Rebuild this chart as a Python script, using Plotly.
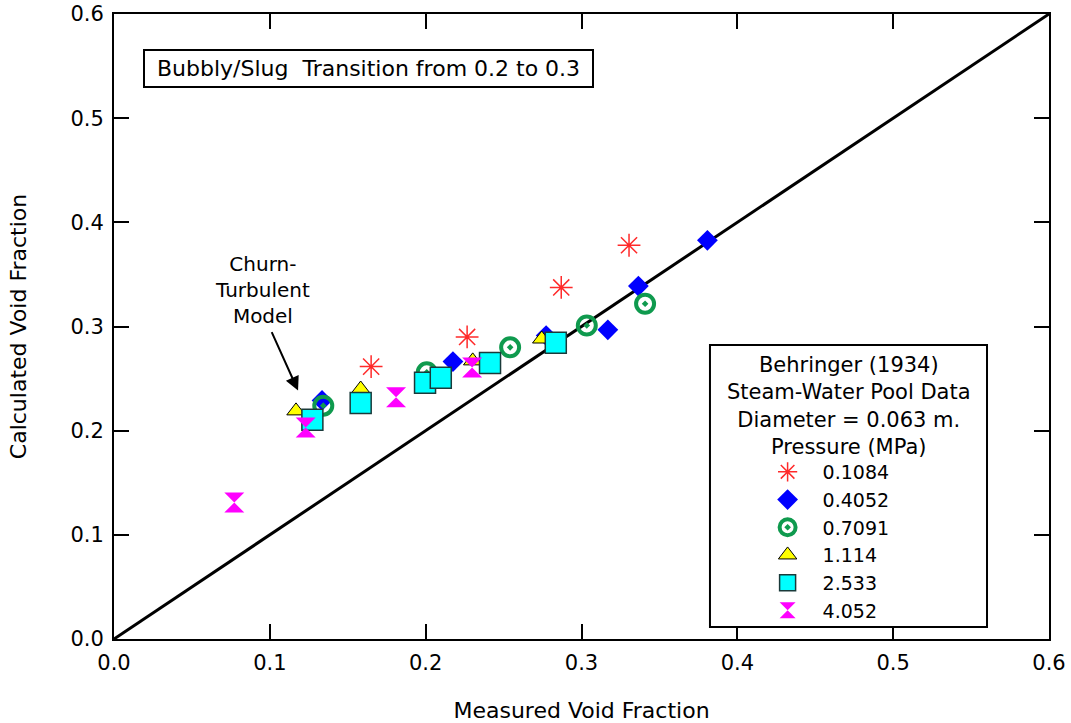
import plotly.graph_objects as go

# ---- data (measured, calculated void fraction) ----
p01084_x = [0.165, 0.2266, 0.287, 0.3305]
p01084_y = [0.2615, 0.290, 0.3375, 0.378]

p04052_x = [0.1335, 0.2175, 0.2773, 0.3169, 0.3365, 0.3808]
p04052_y = [0.229, 0.2663, 0.2913, 0.2968, 0.3388, 0.3827]

p07091_x = [0.1343, 0.2007, 0.2542, 0.3034, 0.3408]
p07091_y = [0.224, 0.256, 0.280, 0.301, 0.3218]

p1114_x = [0.1168, 0.1583, 0.2302, 0.2745]
p1114_y = [0.219, 0.240, 0.267, 0.288]

p2533_x = [0.1273, 0.1583, 0.1996, 0.2097, 0.2413, 0.2835]
p2533_y = [0.2106, 0.2266, 0.2459, 0.2507, 0.265, 0.2843]

p4052_x = [0.0772, 0.123, 0.181, 0.2298]
p4052_y = [0.131, 0.203, 0.232, 0.2606]

diag = [0.0, 0.6]
ticks = [0.0, 0.1, 0.2, 0.3, 0.4, 0.5, 0.6]
tick_text = ["0.0", "0.1", "0.2", "0.3", "0.4", "0.5", "0.6"]

FONT = "DejaVu Sans"

fig = go.Figure()

fig.add_trace(go.Scatter(x=diag, y=diag, mode="lines",
                         line=dict(color="black", width=3), showlegend=False,
                         hoverinfo="skip"))

fig.add_trace(go.Scatter(x=p01084_x, y=p01084_y, mode="markers", name="0.1084",
                         marker=dict(symbol="asterisk-open", size=19,
                                     color="#ff2a2a",
                                     line=dict(color="#ff2a2a", width=1.5))))
fig.add_trace(go.Scatter(x=p04052_x, y=p04052_y, mode="markers", name="0.4052",
                         marker=dict(symbol="diamond", size=16, color="#0000ff",
                                     line=dict(width=0))))
fig.add_trace(go.Scatter(x=p07091_x, y=p07091_y, mode="markers", name="0.7091",
                         marker=dict(symbol="circle-open-dot", size=18,
                                     color="#0f9a4e",
                                     line=dict(color="#0f9a4e", width=4))))
fig.add_trace(go.Scatter(x=p1114_x, y=p1114_y, mode="markers", name="1.114",
                         marker=dict(symbol="triangle-up", size=16, color="#ffff00",
                                     line=dict(color="black", width=1))))
fig.add_trace(go.Scatter(x=p2533_x, y=p2533_y, mode="markers", name="2.533",
                         marker=dict(symbol="square", size=21, color="#00ffff",
                                     line=dict(color="#1a3a3a", width=1.5))))
fig.add_trace(go.Scatter(x=p4052_x, y=p4052_y, mode="markers", name="4.052",
                         marker=dict(symbol="hourglass", size=20, color="#ff00ff",
                                     line=dict(width=0))))

axis_common = dict(
    range=[0, 0.6], tickvals=ticks, ticktext=tick_text,
    ticks="inside", ticklen=15, tickwidth=2, tickcolor="black",
    showline=True, linecolor="black", linewidth=2, mirror="ticks",
    showgrid=False, zeroline=False, automargin=False,
    tickfont=dict(family=FONT, size=21, color="black"),
    ticklabelstandoff=4,
)

fig.update_xaxes(**axis_common,
                 title=dict(text="Measured Void Fraction", standoff=30,
                            font=dict(family=FONT, size=22, color="black")))
fig.update_yaxes(**axis_common,
                 title=dict(text="Calculated Void Fraction", standoff=38,
                            font=dict(family=FONT, size=22, color="black")))

# legend frame + header text
fig.add_shape(type="rect", xref="paper", yref="paper",
              x0=0.6374, x1=0.9337, y0=0.0192, y1=0.4704,
              line=dict(color="black", width=2), fillcolor="white", layer="above")
fig.add_annotation(xref="paper", yref="paper", x=0.7856, y=0.3728,
                   xanchor="center", yanchor="middle",
                   text="Behringer (1934)<br>Steam-Water Pool Data<br>Diameter = 0.063 m.<br>Pressure (MPa)",
                   showarrow=False, font=dict(family=FONT, size=21, color="black"),
                   align="center")

fig.add_annotation(xref="paper", yref="paper", x=0.2727, y=0.912,
                   xanchor="center", yanchor="middle",
                   text="\u00a0Bubbly/Slug\u00a0\u00a0Transition from 0.2 to 0.3\u00a0",
                   showarrow=False, font=dict(family=FONT, size=22, color="black"),
                   bordercolor="black", borderwidth=2, borderpad=5, bgcolor="white")

fig.add_annotation(x=0.0956, y=0.3346, text="Churn-<br>Turbulent<br>Model",
                   xanchor="center", yanchor="middle",
                   showarrow=False, font=dict(family=FONT, size=20, color="black"),
                   align="center")
fig.add_annotation(x=0.1181, y=0.2385, text="", showarrow=True,
                   ax=-27, ay=-60, arrowhead=2, arrowsize=1.4, arrowwidth=2,
                   arrowcolor="black")

fig.update_layout(
    width=1071, height=723,
    margin=dict(l=114, r=22, t=14, b=84),
    plot_bgcolor="white", paper_bgcolor="white",
    font=dict(family=FONT, size=20, color="black"),
    legend=dict(x=0.683, y=0.2976, xanchor="left", yanchor="top",
                bgcolor="rgba(0,0,0,0)", borderwidth=0,
                font=dict(family=FONT, size=19, color="black"),
                itemwidth=60, tracegroupgap=0),
)

fig.write_html("out.html")
